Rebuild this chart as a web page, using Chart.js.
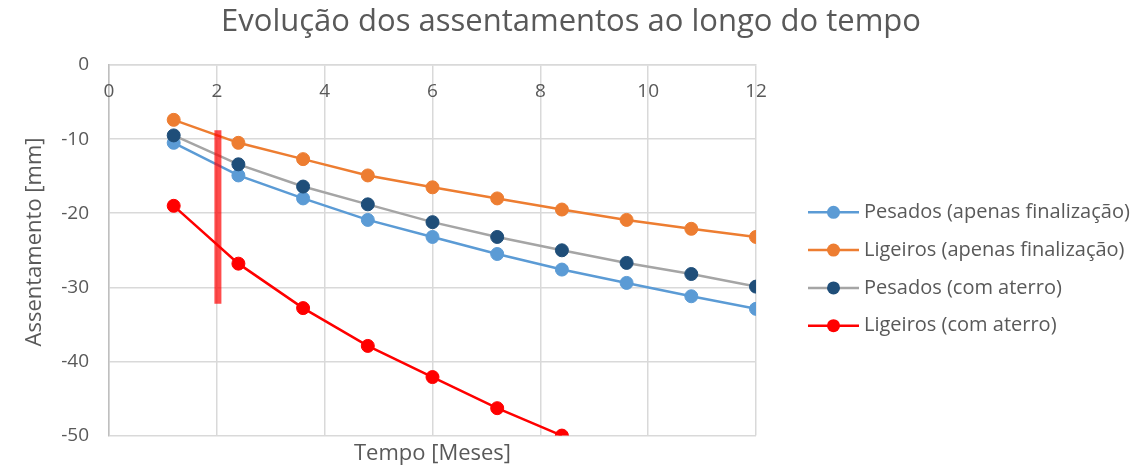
<!DOCTYPE html>
<html>
<head>
<meta charset="utf-8">
<script src="https://cdn.jsdelivr.net/npm/chart.js@4/dist/chart.umd.min.js"></script>
<style>
  html, body { margin: 0; padding: 0; background: #fff; }
  #wrap { width: 1142px; height: 467px; }
</style>
</head>
<body>
<div id="wrap"><canvas id="chart"></canvas></div>
<script>
// months
const meses = [1.2, 2.4, 3.6, 4.8, 6, 7.2, 8.4, 9.6, 10.8, 12];
// settlements [mm]
const pesadosFinal = [-10.5, -14.9, -18.0, -20.9, -23.2, -25.5, -27.6, -29.4, -31.2, -32.9];
const ligeirosFinal = [-7.4, -10.5, -12.7, -14.9, -16.5, -18.0, -19.5, -20.9, -22.1, -23.2];
const pesadosAterro = [-9.5, -13.4, -16.4, -18.8, -21.2, -23.2, -25.0, -26.7, -28.2, -29.9];
const ligeirosAterro = [-19.0, -26.8, -32.8, -37.9, -42.1, -46.3, -50.0];
// red marker bar at ~2 months
const marcaX = [2.02, 2.02];
const marcaY = [-8.8, -32.2];
const xTicks = [0, 2, 4, 6, 8, 10, 12];

const titulo = "Evolução dos assentamentos ao longo do tempo";
const textColor = "#595959";
const fontFamily = "'Open Sans', sans-serif";

const toPoints = (xs, ys) => ys.map((y, i) => ({ x: xs[i], y: y }));

const series = [
  { label: "Pesados (apenas finalização)", data: pesadosFinal, line: "#5b9bd5", point: "#5b9bd5", order: 4 },
  { label: "Ligeiros (apenas finalização)", data: ligeirosFinal, line: "#ed7d31", point: "#ed7d31", order: 3 },
  { label: "Pesados (com aterro)", data: pesadosAterro, line: "#a5a5a5", point: "#1f4e79", order: 2 },
  { label: "Ligeiros (com aterro)", data: ligeirosAterro, line: "#ff0000", point: "#ff0000", order: 1 },
];

const datasets = series.map((s) => ({
  label: s.label,
  data: toPoints(meses, s.data),
  borderColor: s.line,
  backgroundColor: s.point,
  pointBackgroundColor: s.point,
  pointBorderColor: s.point,
  borderWidth: 2.5,
  pointRadius: 6.5,
  pointBorderWidth: 1,
  tension: 0,
  order: s.order,
}));

datasets.push({
  label: "marca",
  data: toPoints(marcaX, marcaY),
  borderColor: "rgba(255, 0, 0, 0.7)",
  borderWidth: 7,
  borderCapStyle: "butt",
  pointRadius: 0,
  order: 0,
});

// draws the title, top tick labels, axis titles and the legend
const extras = {
  id: "extras",
  afterDraw(chart) {
    const ctx = chart.ctx;
    const area = chart.chartArea;
    const xs = chart.scales.x;
    ctx.save();
    ctx.fillStyle = textColor;
    ctx.textAlign = "center";
    ctx.textBaseline = "middle";

    ctx.font = "31px " + fontFamily;
    ctx.fillText(titulo, 571, 22);

    ctx.font = "19px " + fontFamily;
    xTicks.forEach((t) => ctx.fillText(String(t), xs.getPixelForValue(t), area.top + 27));

    ctx.font = "22px " + fontFamily;
    ctx.fillText("Tempo [Meses]", (area.left + area.right) / 2, 454);

    ctx.save();
    ctx.translate(35, 242);
    ctx.rotate(-Math.PI / 2);
    ctx.fillText("Assentamento [mm]", 0, 0);
    ctx.restore();

    ctx.font = "20px " + fontFamily;
    ctx.textAlign = "left";
    series.forEach((s, i) => {
      const cy = 212.3 + i * 37.8;
      ctx.strokeStyle = s.line;
      ctx.lineWidth = 2.5;
      ctx.beginPath();
      ctx.moveTo(808, cy);
      ctx.lineTo(859, cy);
      ctx.stroke();
      ctx.fillStyle = s.point;
      ctx.beginPath();
      ctx.arc(833.5, cy, 6.5, 0, Math.PI * 2);
      ctx.fill();
      ctx.fillStyle = textColor;
      ctx.fillText(s.label, 864, cy);
    });
    ctx.restore();
  },
};

new Chart(document.getElementById("chart"), {
  type: "line",
  data: { datasets: datasets },
  plugins: [extras],
  options: {
    responsive: true,
    maintainAspectRatio: false,
    animation: false,
    devicePixelRatio: 1,
    layout: { padding: { top: 65, right: 386, bottom: 30, left: 0 } },
    scales: {
      x: {
        type: "linear",
        position: "top",
        min: 0,
        max: 12,
        ticks: { stepSize: 2, display: false },
        grid: { color: "#d9d9d9", lineWidth: 1.5, drawTicks: false },
        border: { color: "#d9d9d9", width: 1.5 },
        afterFit: (s) => { s.height = 0; },
      },
      y: {
        min: -50,
        max: 0,
        ticks: { stepSize: 10, padding: 20, color: textColor, font: { family: fontFamily, size: 19 } },
        grid: { color: "#d9d9d9", lineWidth: 1.5, drawTicks: false },
        border: { color: "#bfbfbf", width: 1.5 },
        afterFit: (s) => { s.width = 109; },
      },
    },
    plugins: {
      legend: { display: false },
      tooltip: { enabled: false },
      title: { display: false },
    },
  },
});
</script>
</body>
</html>
